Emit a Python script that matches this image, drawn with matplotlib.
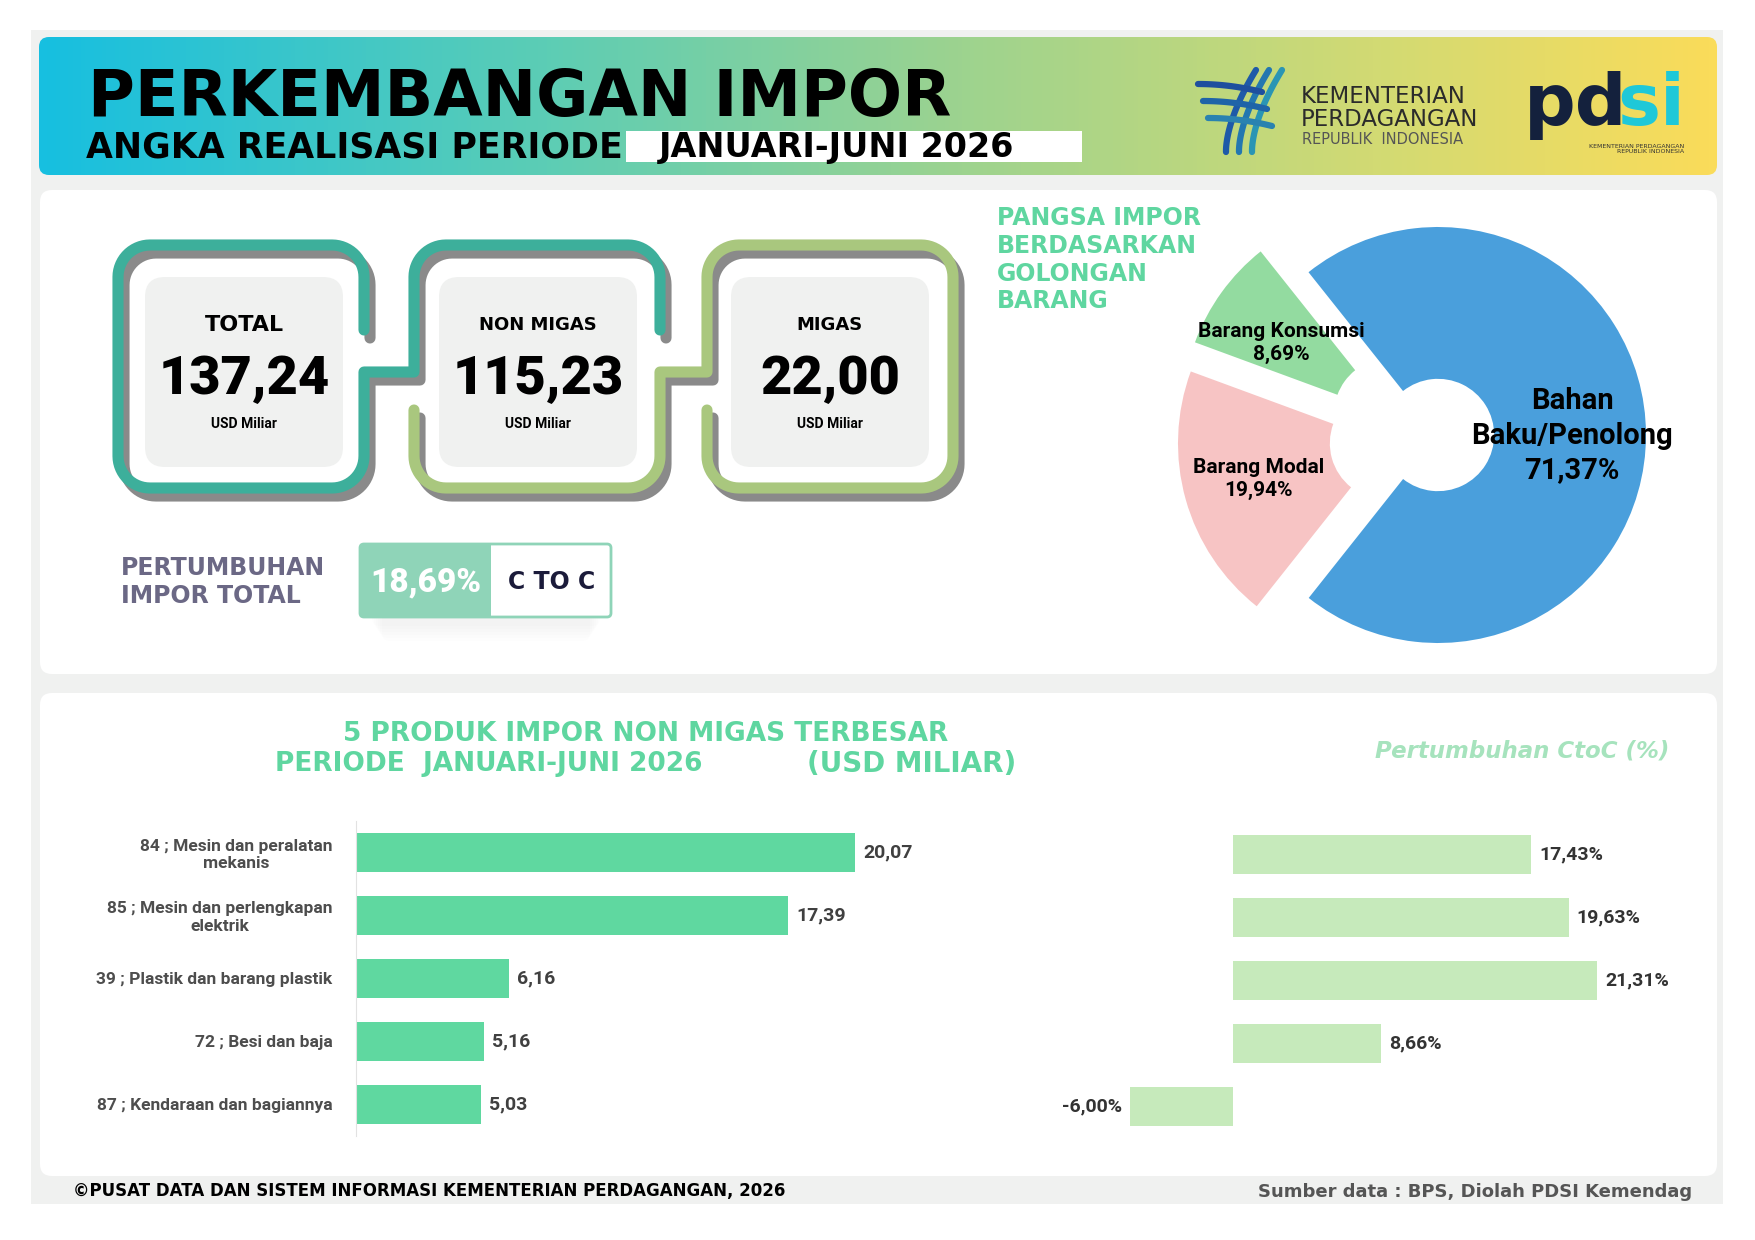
import matplotlib
matplotlib.use("Agg")
import matplotlib.pyplot as plt
import numpy as np
from matplotlib.patches import FancyBboxPatch, Rectangle
from matplotlib.colors import LinearSegmentedColormap

summary_labels = ["TOTAL", "NON MIGAS", "MIGAS"]
summary_values = [137.24, 115.23, 22.00]
summary_unit = "USD Miliar"
growth_total = 18.69
period = "JANUARI-JUNI 2026"

share_labels = ["Barang Konsumsi", "Barang Modal", "Bahan\nBaku/Penolong"]
share_values = [8.69, 19.94, 71.37]
share_colors = ["#93dba0", "#f7c4c4", "#4a9fdc"]

products = ["84 ; Mesin dan peralatan\nmekanis",
            "85 ; Mesin dan perlengkapan\nelektrik",
            "39 ; Plastik dan barang plastik",
            "72 ; Besi dan baja",
            "87 ; Kendaraan dan bagiannya"]
product_values = [20.07, 17.39, 6.16, 5.16, 5.03]
product_growth = [17.43, 19.63, 21.31, 8.66, -6.00]


def idn(v):
    # indonesian decimal comma
    return f"{v:.2f}".replace(".", ",")


W, H = 1755, 1240
plt.rcParams['font.family'] = ['DejaVu Sans']
fig = plt.figure(figsize=(W / 100, H / 100), dpi=100)
ax = fig.add_axes([0, 0, 1, 1])
ax.set_xlim(0, W)
ax.set_ylim(H, 0)
ax.axis('off')


def px_axes(x0, y0, x1, y1):
    a = fig.add_axes([x0 / W, 1 - y1 / H, (x1 - x0) / W, (y1 - y0) / H])
    a.patch.set_alpha(0)
    return a


def rbox(x, y, w, h, r, **kw):
    p = FancyBboxPatch((x, y), w, h, boxstyle=f"round,pad=0,rounding_size={r}", **kw)
    ax.add_patch(p)
    return p


# background + panels
ax.add_patch(Rectangle((31, 30), 1692, 1174, fc='#f0f1f0', ec='none', zorder=0))
rbox(40, 190, 1677, 484, 12, fc='white', ec='none', zorder=1)
rbox(40, 693, 1677, 483, 12, fc='white', ec='none', zorder=1)

# header gradient
grad_cmap = LinearSegmentedColormap.from_list(
    'hdr', [(0, '#17bfe0'), (0.3, '#5ccdb5'), (0.55, '#9dd38f'),
            (0.8, '#d2da73'), (1, '#fadc5a')])
hdr = rbox(39, 37, 1678, 138, 10, fc='none', ec='none', zorder=2)
im = ax.imshow(np.linspace(0, 1, 400)[None, :], cmap=grad_cmap, aspect='auto',
               extent=[39, 1717, 175, 37], zorder=2)
im.set_clip_path(hdr)
ax.set_xlim(0, W)
ax.set_ylim(H, 0)

ax.text(88, 98, "PERKEMBANGAN IMPOR", fontsize=46, fontweight='heavy',
        color='black', va='center', ha='left', zorder=5)
ax.text(86, 147, "ANGKA REALISASI PERIODE", fontsize=25, fontweight='bold',
        color='black', va='center', ha='left', zorder=5)
ax.add_patch(Rectangle((626, 131), 456, 31, fc='white', ec='none', zorder=4))
ax.text(659, 148, period, fontsize=24, fontweight='bold', color='black',
        va='center', ha='left', zorder=5)

# kemendag emblem (simplified strokes)
for i, c in enumerate(['#1e5aa8', '#2377b0', '#2a95b4']):
    t = np.linspace(0, 1, 30)
    xs = 1226 + i * 13 + 34 * t ** 1.6 - 4 * t
    ys = 152 - 82 * t
    ax.plot(xs, ys, color=c, lw=4.5, solid_capstyle='round', zorder=5)
for i, c in enumerate(['#1e4f9e', '#1f64a8', '#2a82b0']):
    t = np.linspace(0, 1, 20)
    ax.plot(1198 + i * 5 + 64 * t, 84 + i * 17 + 8 * t ** 2, color=c, lw=4.5,
            solid_capstyle='round', zorder=5)
ax.text(1301, 108, "KEMENTERIAN\nPERDAGANGAN", fontsize=16.5, color='#2b2b2b',
        va='center', linespacing=0.95, zorder=5)
ax.text(1302, 140, "REPUBLIK  INDONESIA", fontsize=10.5, color='#555555',
        va='center', zorder=5)
ax.text(1524, 106, "pd", fontsize=52, fontweight='bold', color='#14213d',
        va='center', ha='left', zorder=5)
ax.text(1617, 106, "si", fontsize=52, fontweight='bold', color='#1fc8d8',
        va='center', ha='left', zorder=5)
ax.text(1684, 149, "KEMENTERIAN PERDAGANGAN\nREPUBLIK INDONESIA", fontsize=4.5,
        color='#333333', va='center', ha='right', multialignment='right', zorder=6)

# ---- summary cards ----
T, B, r = 245, 488, 32
cards = [(118, 364), (414, 660), (707, 953)]
conn_y, top_end, bot_start = 372, 330, 410


def arc(cx, cy, a0, a1):
    a = np.radians(np.linspace(a0, a1, 16))
    return list(zip(cx + r * np.cos(a), cy + r * np.sin(a)))


(L1, R1), (L2, R2), (L3, R3) = cards
teal_path = ([(R1, top_end)] + arc(R1 - r, T + r, 0, -90) + arc(L1 + r, T + r, 270, 180)
             + arc(L1 + r, B - r, 180, 90) + arc(R1 - r, B - r, 90, 0)
             + [(R1, conn_y), (L2, conn_y)] + arc(L2 + r, T + r, 180, 270)
             + arc(R2 - r, T + r, 270, 360) + [(R2, top_end)])
green_path = ([(L2, bot_start)] + arc(L2 + r, B - r, 180, 90) + arc(R2 - r, B - r, 90, 0)
              + [(R2, conn_y), (L3, conn_y)] + arc(L3 + r, T + r, 180, 270)
              + arc(R3 - r, T + r, 270, 360) + arc(R3 - r, B - r, 0, 90)
              + arc(L3 + r, B - r, 90, 180) + [(L3, bot_start)])

for pts, col in [(teal_path, '#3daf9b'), (green_path, '#a9c77e')]:
    xs, ys = np.array(pts).T
    ax.plot(xs + 6, ys + 8, color='#8a8a8a', lw=8, solid_capstyle='round',
            solid_joinstyle='round', zorder=3)
for pts, col in [(teal_path, '#3daf9b'), (green_path, '#a9c77e')]:
    xs, ys = np.array(pts).T
    ax.plot(xs, ys, color=col, lw=8, solid_capstyle='round',
            solid_joinstyle='round', zorder=4)

inner_x = [145, 439, 731]
for i, (lab, val) in enumerate(zip(summary_labels, summary_values)):
    x0 = inner_x[i]
    rbox(x0, 277, 198, 190, 20, fc='#f0f1f0', ec='none', zorder=4)
    cx = x0 + 99
    ax.text(cx, 325, lab, fontsize=16 if i == 0 else 13, fontweight='bold',
            color='black', ha='center', va='center', zorder=6)
    ax.text(cx, 380, idn(val), fontsize=39, fontweight='black', family='Roboto',
            color='black', ha='center', va='center', zorder=6)
    ax.text(cx, 424, summary_unit, fontsize=10, fontweight='bold', family='Roboto',
            color='black', ha='center', va='center', zorder=6)

# growth box
ax.text(121, 568, "PERTUMBUHAN", fontsize=17, fontweight='bold', color='#6b6885',
        va='center', ha='left', zorder=5)
ax.text(121, 596, "IMPOR TOTAL", fontsize=17, fontweight='bold', color='#6b6885',
        va='center', ha='left', zorder=5)
for k in range(6):
    rbox(372 + 2 * k, 566 + k * 3, 228 - 4 * k, 60, 8, fc='black', ec='none',
         alpha=0.008, zorder=3)
rbox(360, 544, 251, 73, 4, fc='white', ec='#8fd4b8', lw=2, zorder=4)
ax.add_patch(Rectangle((360, 544), 131, 73, fc='#8fd4b8', ec='none', zorder=5))
ax.text(426, 582, idn(growth_total) + "%", fontsize=24, fontweight='black',
        family='Roboto', color='white', ha='center', va='center', zorder=6)
ax.text(552, 582, "C TO C", fontsize=17, fontweight='bold', color='#1b1b3a',
        ha='center', va='center', zorder=6)

# ---- share donut ----
ax.text(997, 206, "PANGSA IMPOR\nBERDASARKAN\nGOLONGAN\nBARANG", fontsize=17,
        fontweight='bold', color='#5fd6a0', va='top', ha='left', linespacing=1.2,
        zorder=5)
pcx, pcy, pr = 1438, 435, 208
axp = px_axes(pcx - 260, pcy - 260, pcx + 260, pcy + 260)
wedges, _ = axp.pie(share_values, colors=share_colors, startangle=128.5,
                    counterclock=True, radius=1,
                    wedgeprops=dict(width=0.73, edgecolor='none'))
# the two small slices are pulled out towards the left
wedges[0].set_center((-0.23, 0.10))
wedges[1].set_center((-0.25, -0.04))
axp.set_xlim(-1.25, 1.25)
axp.set_ylim(-1.25, 1.25)
axp.axis('off')


def pie_xy(px, py):
    # pixel position -> pie axes units
    return (px - pcx) / pr, (pcy - py) / pr


label_px = [(1281, 343), (1259, 479), (1572, 436)]
label_size = [15, 15, 21]
for lab, v, (lx, ly), fs in zip(share_labels, share_values, label_px, label_size):
    x, y = pie_xy(lx, ly)
    axp.text(x, y, f"{lab}\n{idn(v)}%", fontsize=fs, fontweight='bold',
             family='Roboto', color='black', ha='center', va='center',
             linespacing=1.3, zorder=6)

# ---- top 5 products ----
ax.text(646, 734, "5 PRODUK IMPOR NON MIGAS TERBESAR", fontsize=19,
        fontweight='bold', color='#5fd6a0', ha='center', va='center', zorder=5)
ax.text(275, 764, "PERIODE  " + period, fontsize=19, fontweight='bold',
        color='#5fd6a0', ha='left', va='center', zorder=5)
ax.text(1016, 764, "(USD MILIAR)", fontsize=20, fontweight='bold',
        color='#5fd6a0', ha='right', va='center', zorder=5)
ax.text(1669, 751, "Pertumbuhan CtoC (%)", fontsize=16.5, fontweight='bold',
        style='italic', color='#a6e3bd', ha='right', va='center', zorder=5)

slot = 63
top = 852 - slot / 2
bot = top + slot * len(products)
scale_l = 24.86
axl = px_axes(356, top, 356 + scale_l * 24, bot)
yy = np.arange(len(products))
axl.barh(yy, product_values, height=39 / slot, color='#5fd8a0')
axl.set_xlim(0, 24)
axl.set_ylim(len(products) - 0.5, -0.5)
for s in ['top', 'right', 'bottom']:
    axl.spines[s].set_visible(False)
axl.spines['left'].set_color('#e2e2e2')
axl.set_xticks([])
axl.set_yticks(yy)
axl.set_yticklabels(products, fontsize=12.5, fontweight='bold', color='#4d4d4d',
                    family='Roboto')
for t in axl.get_yticklabels():
    t.set_multialignment('center')
axl.tick_params(axis='y', length=0, pad=17)
for i, v in enumerate(product_values):
    axl.text(v + 8 / scale_l, i, idn(v), fontsize=14, fontweight='bold',
             family='Roboto', color='#404040', va='center', ha='left')

scale_r = 17.1
axr = px_axes(1233 - scale_r * 8, top + 2, 1233 + scale_r * 24, bot + 2)
axr.barh(yy, product_growth, height=39 / slot, color='#c6eabb')
axr.set_xlim(-8, 24)
axr.set_ylim(len(products) - 0.5, -0.5)
axr.axis('off')
for i, v in enumerate(product_growth):
    off = 8 / scale_r
    axr.text(v + off if v >= 0 else v - off, i, idn(v) + "%", fontsize=14,
             fontweight='bold', family='Roboto', color='#333333', va='center',
             ha='left' if v >= 0 else 'right')

# footer
ax.text(73, 1191, "©PUSAT DATA DAN SISTEM INFORMASI KEMENTERIAN PERDAGANGAN, 2026",
        fontsize=12, fontweight='bold', color='black', ha='left', va='center', zorder=5)
ax.text(1692, 1192, "Sumber data : BPS, Diolah PDSI Kemendag", fontsize=13,
        fontweight='bold', color='#555555', ha='right', va='center', zorder=5)

fig.savefig("out.png", dpi=100)
